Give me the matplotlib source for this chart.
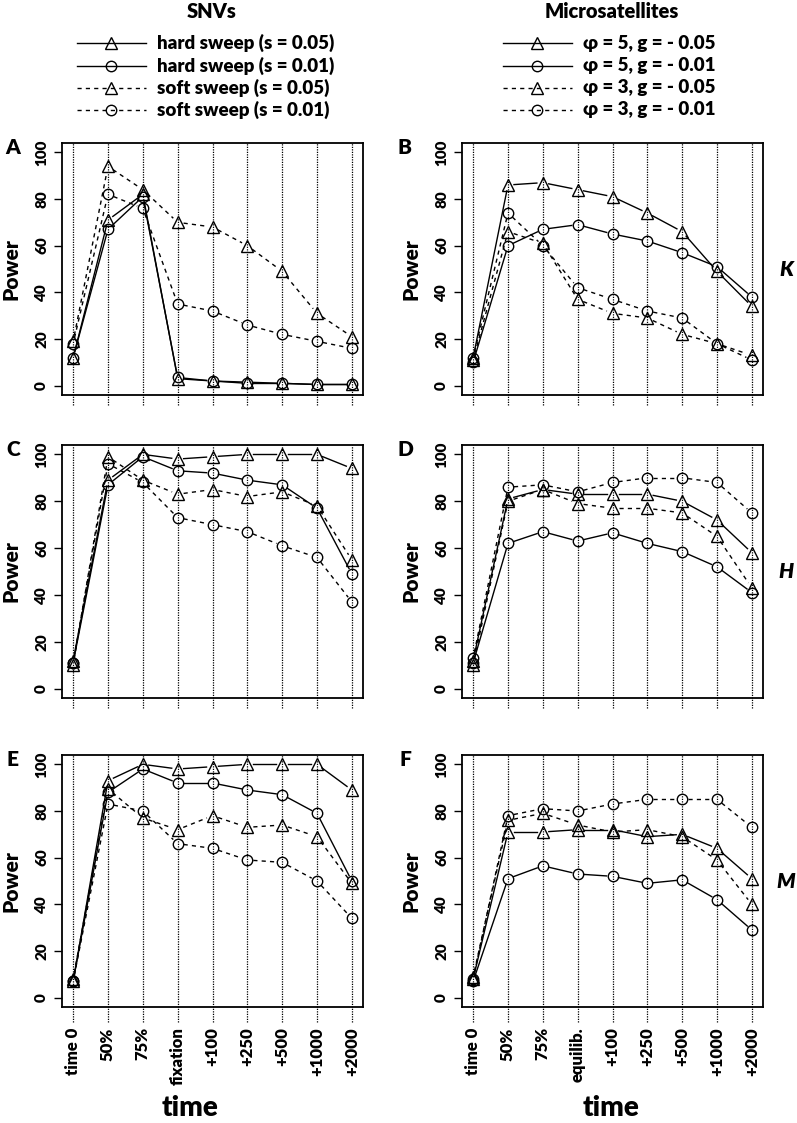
import matplotlib
matplotlib.use('Agg')
import matplotlib.pyplot as plt
import numpy as np

plt.rcParams['font.family'] = ['Lato', 'DejaVu Sans']
plt.rcParams['font.weight'] = 'heavy'

snv_times = ['time 0', '50%', '75%', 'fixation', '+100', '+250', '+500', '+1000', '+2000']
msat_times = ['time 0', '50%', '75%', 'equilib.', '+100', '+250', '+500', '+1000', '+2000']

snv_names = ['hard sweep (s = 0.05)', 'hard sweep (s = 0.01)',
             'soft sweep (s = 0.05)', 'soft sweep (s = 0.01)']
msat_names = ['\u03c6 = 5, g = - 0.05', '\u03c6 = 5, g = - 0.01',
              '\u03c6 = 3, g = - 0.05', '\u03c6 = 3, g = - 0.01']

# SNVs
hard05_K = [12, 71, 82, 3, 2, 1.5, 1, 0.5, 0.5]
hard01_K = [12, 67, 81, 3.5, 2, 1, 1, 0.5, 0.5]
soft05_K = [19, 94, 84, 70, 68, 60, 49, 31, 21]
soft01_K = [18, 82, 76, 35, 32, 26, 22, 19, 16]

hard05_H = [12, 89, 100, 98, 99, 100, 100, 100, 94]
hard01_H = [11, 87, 99, 93, 92, 89, 87, 77, 49]
soft05_H = [10, 99, 89, 83, 85, 82, 84, 78, 55]
soft01_H = [11, 96, 88, 73, 70, 67, 61, 56, 37]

hard05_M = [7, 93, 100, 98, 99, 100, 100, 100, 89]
hard01_M = [7, 88, 98, 92, 92, 89, 87, 79, 50]
soft05_M = [8, 89.5, 77, 72, 78, 73, 74, 69, 49]
soft01_M = [7, 83, 80, 66, 64, 59, 58, 50, 34]

# microsatellites
p5g05_K = [12, 86, 87, 84, 81, 74, 66, 49, 34]
p5g01_K = [10, 60, 67, 69, 65, 62, 57, 51, 38]
p3g05_K = [11, 66, 61, 37, 31, 29, 22, 18, 13]
p3g01_K = [12, 74, 60, 42, 37, 32, 29, 18, 11]

p5g05_H = [12, 81, 85, 83, 83, 83, 80, 72, 58]
p5g01_H = [11, 62, 67, 63, 66.5, 62, 58.5, 52, 41]
p3g05_H = [10, 80, 85, 79, 77, 77, 75, 65, 43]
p3g01_H = [13, 86, 87, 84, 88, 90, 90, 88, 75]

p5g05_M = [8, 71, 71, 72, 72, 69, 70, 64, 51]
p5g01_M = [7, 51, 56.5, 53, 52, 49, 50.5, 42, 29]
p3g05_M = [9, 76, 79, 74, 71, 72, 69, 59, 40]
p3g01_M = [8, 78, 81, 80, 83, 85, 85, 85, 73]

panels = [
    ('A', 'K', [hard05_K, hard01_K, soft05_K, soft01_K], snv_times),
    ('B', 'K', [p5g05_K, p5g01_K, p3g05_K, p3g01_K], msat_times),
    ('C', 'H', [hard05_H, hard01_H, soft05_H, soft01_H], snv_times),
    ('D', 'H', [p5g05_H, p5g01_H, p3g05_H, p3g01_H], msat_times),
    ('E', 'M', [hard05_M, hard01_M, soft05_M, soft01_M], snv_times),
    ('F', 'M', [p5g05_M, p5g01_M, p3g05_M, p3g01_M], msat_times),
]

styles = [('-', '^', 9), ('-', 'o', 7.5), ((0, (3, 3)), '^', 9), ((0, (3, 3)), 'o', 7.5)]

W, H = 797, 1123
fig = plt.figure(figsize=(W / 100, H / 100), dpi=100)

rows = [(143, 395), (445, 698), (755, 1007)]
cols = [(62, 363), (462, 763)]


def gapped(ax, xs, ys, ls, marker, ms, gap=6):
    # R type="b": segments stop short of the points
    pts = ax.transData.transform(np.column_stack([xs, ys]))
    inv = ax.transData.inverted()
    for p0, p1 in zip(pts[:-1], pts[1:]):
        d = p1 - p0
        L = np.hypot(d[0], d[1])
        if L <= 2 * gap:
            continue
        u = d / L
        a = inv.transform(p0 + u * gap)
        b = inv.transform(p1 - u * gap)
        ax.plot([a[0], b[0]], [a[1], b[1]], color='black', lw=1, ls=ls)
    ax.plot(xs, ys, ls='none', marker=marker, ms=ms, mfc='none',
            mec='black', mew=1)


x = np.arange(1, 10)
for i, (letter, stat, series, times) in enumerate(panels):
    r, c = divmod(i, 2)
    top, bot = rows[r]
    left, right = cols[c]
    ax = fig.add_axes([left / W, 1 - bot / H, (right - left) / W, (bot - top) / H])
    ax.set_xlim(0.68, 9.32)
    ax.set_ylim(-4, 104)
    for s in ax.spines.values():
        s.set_linewidth(1.3)
    ext = -15 / (bot - top) if r == 2 else -10 / (bot - top)
    for xv in x:
        ax.axvline(xv, ymin=ext, ymax=1, color='black', lw=0.9,
                   ls=(0, (1, 1)), clip_on=False, zorder=0)
    for ys, (ls, mk, ms) in zip(series, styles):
        gapped(ax, x, ys, ls, mk, ms)
    ax.set_yticks([0, 20, 40, 60, 80, 100])
    ax.tick_params(axis='y', length=6, width=1, labelsize=11, pad=4,
                   labelrotation=90)
    for t in ax.get_yticklabels():
        t.set_va('center')
    if r == 2:
        ax.set_xticks(x)
        ax.set_xticklabels(times)
        ax.tick_params(axis='x', length=0, labelsize=12, pad=14.5,
                       labelrotation=90)
    else:
        ax.set_xticks([])

ov = fig.add_axes([0, 0, 1, 1])
ov.set_xlim(0, W)
ov.set_ylim(H, 0)
ov.axis('off')

ov.text(212, 11, 'SNVs', ha='center', va='center', fontsize=14.5)
ov.text(612, 12, 'Microsatellites', ha='center', va='center', fontsize=14.5)

leg_y = [43, 66, 88, 110]
for (x0, x1, tx, names) in [(77, 146, 157, snv_names), (503, 572, 583, msat_names)]:
    for yy, name, (ls, mk, ms) in zip(leg_y, names, styles):
        ov.plot([x0, x1], [yy, yy], color='black', lw=1, ls=ls)
        ov.plot([(x0 + x1) / 2], [yy], marker=mk, ms=ms, mfc='none', mec='black', mew=1)
        ov.text(tx, yy, name, ha='left', va='center', fontsize=13.5)

for i, (letter, stat, series, times) in enumerate(panels):
    r, c = divmod(i, 2)
    top, bot = rows[r]
    mid = (top + bot) / 2
    ov.text(13 + 392 * c, top + 5, letter, ha='center', va='center', fontsize=15)
    ov.text(11 + 400 * c, mid, 'Power', ha='center', va='center',
            rotation=90, fontsize=15)
    if c == 1:
        ov.text(786, mid, stat, ha='center', va='center', fontsize=15,
                style='italic')

ov.text(190, 1108, 'time', ha='center', va='center', fontsize=20)
ov.text(611, 1108, 'time', ha='center', va='center', fontsize=20)

fig.savefig('out.png', dpi=100)
